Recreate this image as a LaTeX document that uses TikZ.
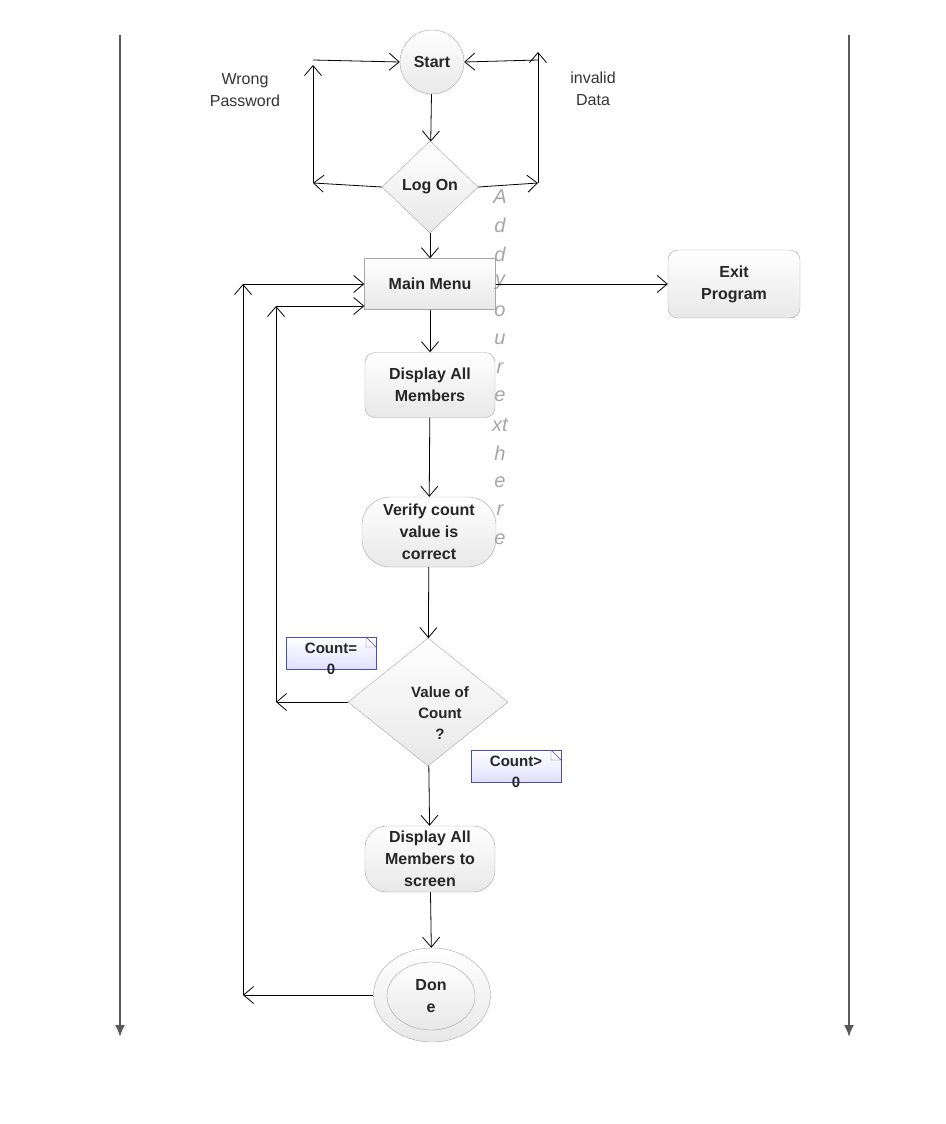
\documentclass[tikz,border=0pt]{standalone}
\usepackage{fontspec}
\setmainfont{Liberation Sans}
\usetikzlibrary{arrows.meta,shapes.geometric,shapes.multipart}

\tikzset{
  box/.style={draw=gray!70, top color=white, bottom color=gray!18, align=center,
    font=\fontsize{16}{22}\selectfont\bfseries, text=black!85},
  flow/.style={-{Straight Barb[length=10pt,width=17pt]}, line width=0.8pt},
  note/.style={draw=blue!40!gray, top color=white, bottom color=blue!12,
    minimum width=90pt, minimum height=32pt},
  notetext/.style={font=\fontsize{15}{21}\selectfont\bfseries, align=center, text=black!85},
  lane/.style={line width=2pt, draw=black!65, -{Latex[length=12pt,width=10pt]}}
}

\begin{document}
\begin{tikzpicture}[x=1pt,y=-1pt]
        \useasboundingbox (0,0) rectangle (945,1124);

        % lanes
        \coordinate (lanelt) at (120,35);
        \coordinate (lanelb) at (120,1037);
        \coordinate (lanert) at (849,35);
        \coordinate (lanerb) at (849,1037);
        \draw [lane] (lanelt) -- (lanelb);
        \draw [lane] (lanert) -- (lanerb);

        % shapes
        \node (start) [box, circle, minimum size=64pt, inner sep=0pt] at (432,62) {Start};
        \node (logon) [box, diamond, minimum width=96pt, minimum height=92pt, inner sep=0pt] at (430,187) {Log On};
        \node (menu) [box, rectangle, minimum width=131pt, minimum height=51pt] at (430,284) {Main Menu};
        \node (exit) [box, rounded corners=10pt, minimum width=132pt, minimum height=68pt] at (734,284) {Exit\\Program};
        \node (showall) [box, rounded corners=10pt, minimum width=130pt, minimum height=65pt] at (430,385) {Display All\\Members};
        \node (verify) [box, rounded corners=28pt, minimum width=134pt, minimum height=70pt, inner sep=1pt] at (429,532) {Verify count\\value is\\correct};
        \node (value) [box, diamond, minimum width=160pt, minimum height=128pt, inner sep=0pt] at (428,702) {};
        \node [notetext] at (440,713) {Value of\\Count\\?};
        \node (screen) [box, rounded corners=22pt, minimum width=130pt, minimum height=66pt, inner sep=1pt] at (430,859) {Display All\\Members to\\screen};
        \node (done) [box, ellipse, minimum width=117pt, minimum height=94pt] at (432,995) {};
        \node (donein) [box, ellipse, minimum width=88pt, minimum height=68pt] at (431,996) {Don\\e};

        % notes
        \node (noteeq) [note] at (331,653) {};
        \draw [blue!40!gray, fill=white] (366,637) -- (376,647) -- (366,647) -- cycle;
        \node [notetext] at (331,659) {Count=\\0};
        \node (notegt) [note] at (516,766) {};
        \draw [blue!40!gray, fill=white] (551,750) -- (561,760) -- (551,760) -- cycle;
        \node [notetext] at (516,772) {Count>\\0};

        % labels
        \node (wrong) [align=center, font=\fontsize{16}{22}\selectfont, text=black!80] at (245,90) {Wrong\\Password};
        \node (invalid) [align=center, font=\fontsize{16}{22}\selectfont, text=black!80] at (593,89) {invalid\\Data};
        \foreach \ch [count=\i from 0] in {A,d,d,y,o,u,r,e,xt,h,e,r,e}
          \node [font=\fontsize{20}{20}\selectfont\itshape, text=gray!70] at (500,{197+28.5*\i}) {\ch};

        % loop corners
        \coordinate (wl1) at (313,183);
        \coordinate (wl2) at (313,65);
        \coordinate (wl3) at (313,60);
        \coordinate (ir1) at (538,183);
        \coordinate (ir2) at (538,52);
        \coordinate (ir3) at (538,60);
        \coordinate (cz1) at (276,702);
        \coordinate (cz2) at (276,306);
        \coordinate (dn1) at (243,995);
        \coordinate (dn2) at (243,284);

        % connectors
        \draw [flow] (start) -- (logon);
        \draw [flow] (logon.west) -- (wl1);
        \draw [flow] (wl1) -- (wl2);
        \draw [flow] (wl3) -- (start.west);
        \draw [flow] (logon.east) -- (ir1);
        \draw [flow] (ir1) -- (ir2);
        \draw [flow] (ir3) -- (start.east);
        \draw [flow] (logon) -- (menu);
        \draw [flow] (menu) -- (exit);
        \draw [flow] (menu) -- (showall);
        \draw [flow] (showall) -- (verify);
        \draw [flow] (verify) -- (value);
        \draw [flow] (value.west) -- (cz1);
        \draw [flow] (cz1) -- (cz2);
        \draw [flow] (cz2) -- (menu.south west |- cz2);
        \draw [flow] (value) -- (screen);
        \draw [flow] (screen) -- (done);
        \draw [flow] (done.west) -- (dn1);
        \draw [flow] (dn1) -- (dn2);
        \draw [flow] (dn2) -- (menu.west);
\end{tikzpicture}
\end{document}
